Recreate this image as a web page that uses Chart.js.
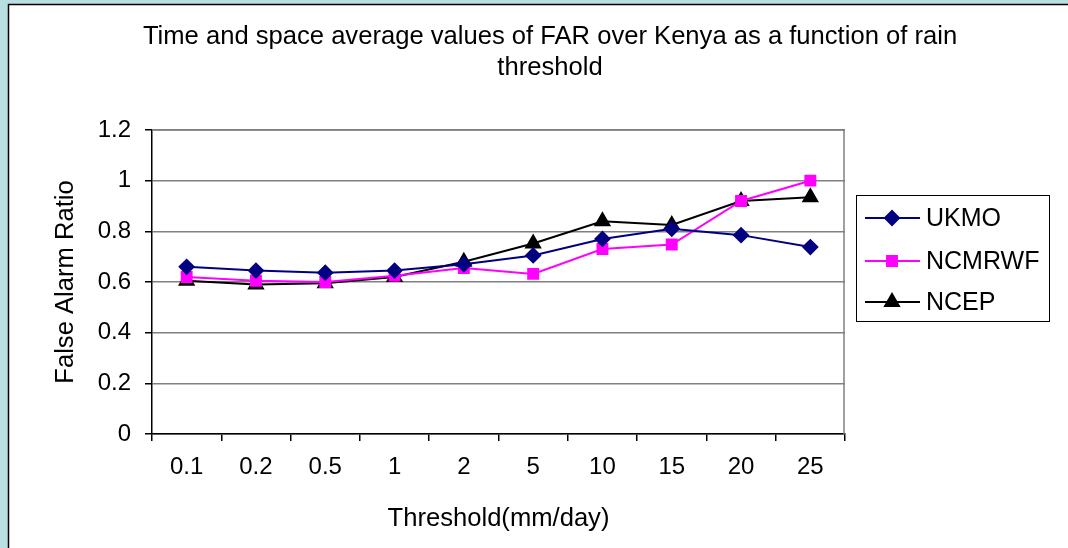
<!DOCTYPE html>
<html>
<head>
<meta charset="utf-8">
<script src="https://cdn.jsdelivr.net/npm/chart.js"></script>
<style>
  html, body { margin: 0; padding: 0; background: #b9dfe3; }
  #wrap { width: 1068px; height: 548px; }
</style>
</head>
<body>
<div id="wrap"><canvas id="myChart" width="1068" height="548"></canvas></div>
<script>
const thresholds = ['0.1', '0.2', '0.5', '1', '2', '5', '10', '15', '20', '25'];
const ukmo    = [0.66, 0.645, 0.637, 0.645, 0.67, 0.705, 0.77, 0.81, 0.785, 0.738];
const ncmrwf  = [0.62, 0.605, 0.60, 0.625, 0.655, 0.632, 0.73, 0.748, 0.92, 1.0];
const ncep    = [0.605, 0.59, 0.595, 0.62, 0.68, 0.752, 0.84, 0.825, 0.92, 0.935];

const FONT = 'Liberation Sans, Arial, sans-serif';

// white framed panel + title + plot border + legend
const frame = {
  id: 'frame',
  beforeDraw(chart) {
    const c = chart.ctx;
    c.save();
    c.fillStyle = '#b9dfe3';
    c.fillRect(0, 0, chart.width, chart.height);
    c.fillStyle = '#ffffff';
    c.fillRect(8.5, 4.5, chart.width, chart.height);
    c.strokeStyle = '#000000';
    c.lineWidth = 1.5;
    c.strokeRect(8.5, 4.5, chart.width + 10, chart.height + 10);
    c.fillStyle = '#000';
    c.font = '25.6px ' + FONT;
    c.textAlign = 'center';
    c.textBaseline = 'middle';
    c.fillText('Time and space average values of FAR over Kenya as a function of rain', 550, 37);
    c.fillText('threshold', 550, 68);
    c.restore();
  },
  beforeDatasetsDraw(chart) {
    const a = chart.chartArea, c = chart.ctx;
    c.save();
    c.strokeStyle = '#808080';
    c.lineWidth = 1.5;
    c.beginPath();
    c.moveTo(a.left, a.top);
    c.lineTo(a.right - 1, a.top);
    c.lineTo(a.right - 1, a.bottom);
    c.stroke();
    c.restore();
  },
  afterDraw(chart) {
    const c = chart.ctx;
    c.save();
    c.strokeStyle = '#000';
    c.lineWidth = 1;
    c.strokeRect(856.5, 195.5, 193, 126);
    const rows = [218, 261, 302];
    chart.data.datasets.forEach((ds, i) => {
      const y = rows[i];
      c.strokeStyle = ds.borderColor;
      c.lineWidth = 2;
      c.beginPath();
      c.moveTo(865, y);
      c.lineTo(920, y);
      c.stroke();
      Chart.helpers.drawPoint(c, {
        pointStyle: ds.pointStyle, radius: ds.pointRadius, borderWidth: 1, rotation: 0
      }, 892, y);
      c.fillStyle = ds.pointBackgroundColor;
      c.fill();
      c.fillStyle = '#000';
      c.font = '25px ' + FONT;
      c.textAlign = 'left';
      c.textBaseline = 'middle';
      c.fillText(ds.label, 926, y + 1);
    });
    c.restore();
  }
};

new Chart(document.getElementById('myChart'), {
  type: 'line',
  data: {
    labels: thresholds,
    datasets: [
      { label: 'UKMO', data: ukmo, borderColor: '#000080', backgroundColor: '#000080',
        pointBackgroundColor: '#000080', pointBorderColor: '#000080',
        pointStyle: 'rectRot', pointRadius: 7, borderWidth: 2 },
      { label: 'NCMRWF', data: ncmrwf, borderColor: '#ff00ff', backgroundColor: '#ff00ff',
        pointBackgroundColor: '#ff00ff', pointBorderColor: '#ff00ff',
        pointStyle: 'rect', pointRadius: 7, borderWidth: 2 },
      { label: 'NCEP', data: ncep, borderColor: '#000000', backgroundColor: '#000000',
        pointBackgroundColor: '#000000', pointBorderColor: '#000000',
        pointStyle: 'triangle', pointRadius: 8, borderWidth: 2 }
    ]
  },
  options: {
    responsive: false,
    animation: false,
    layout: { padding: { left: 9, top: 130, right: 223, bottom: 0 } },
    plugins: { legend: { display: false }, title: { display: false }, tooltip: { enabled: false } },
    elements: { line: { tension: 0 } },
    scales: {
      x: {
        offset: true,
        afterFit(s) { s.height = 114; },
        grid: { offset: true, drawOnChartArea: false, drawTicks: true, tickLength: 7, tickColor: '#000', lineWidth: 1.5 },
        border: { color: '#000', width: 1.5 },
        ticks: { color: '#000', font: { family: FONT, size: 24 }, padding: 12, maxRotation: 0 },
        title: { display: true, text: 'Threshold(mm/day)', color: '#000', font: { family: FONT, size: 25.6 }, padding: { top: 0, bottom: 14 } }
      },
      y: {
        min: 0, max: 1.2,
        afterFit(s) { s.width = 143; },
        grid: { color: '#808080', lineWidth: 1.5, tickLength: 7, tickColor: '#000' },
        border: { color: '#000', width: 1.5 },
        ticks: { stepSize: 0.2, color: '#000', font: { family: FONT, size: 24 }, padding: 14,
          callback: v => Math.round(v * 10) / 10 },
        title: { display: true, text: 'False Alarm Ratio', color: '#000', font: { family: FONT, size: 25.6 }, padding: { top: 42, bottom: 0 } }
      }
    }
  },
  plugins: [frame]
});
</script>
</body>
</html>
